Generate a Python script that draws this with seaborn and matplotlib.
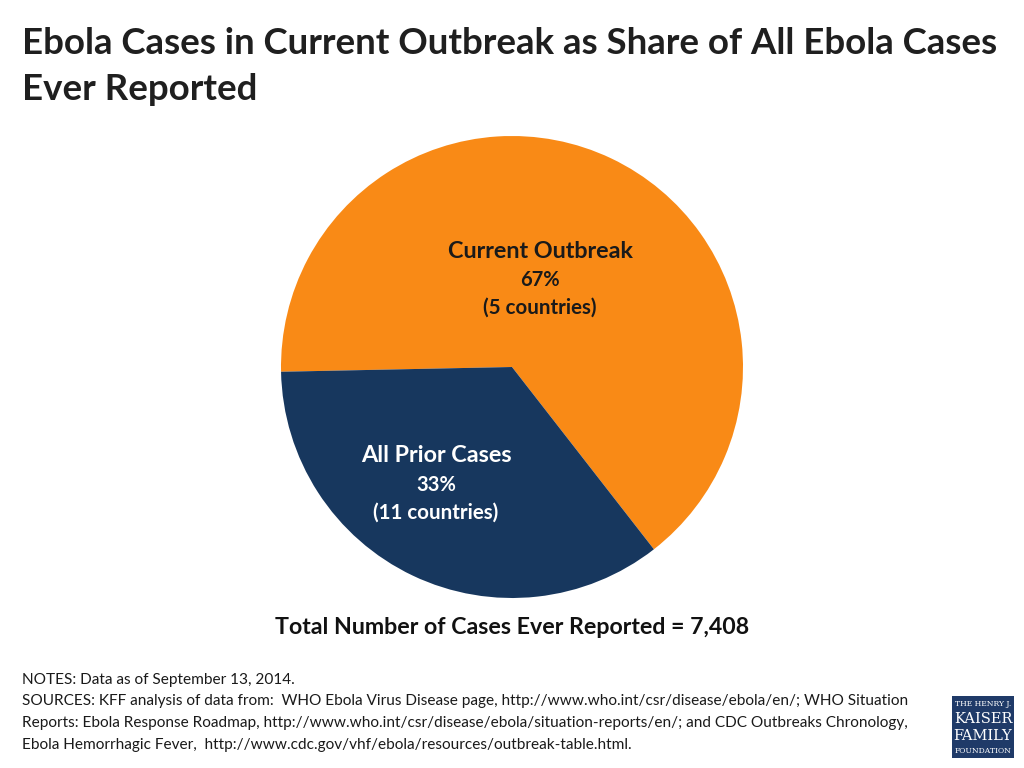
import matplotlib
matplotlib.use("Agg")
import matplotlib.pyplot as plt
import seaborn as sns
from matplotlib.patches import Rectangle

sns.set_theme(style="white")
plt.rcParams['font.family'] = ['Lato', 'DejaVu Sans']

# slice shares as drawn in the picture (labels show rounded figures)
slices = ["Current Outbreak", "All Prior Cases"]
shares = [64.8, 35.2]
pct_labels = ["67%", "33%"]
countries = ["(5 countries)", "(11 countries)"]
total_cases = "7,408"

orange = "#F98A16"
navy = "#17375E"

fig = plt.figure(figsize=(10.24, 7.68), dpi=100)

# title
fig.text(22 / 1024, 1 - 43 / 768,
         "Ebola Cases in Current Outbreak as Share of All Ebola Cases",
         fontsize=26.4, fontweight="bold", color="#1f1f1f", va="center", ha="left")
fig.text(22 / 1024, 1 - 89 / 768, "Ever Reported",
         fontsize=26.4, fontweight="bold", color="#1f1f1f", va="center", ha="left")

# pie
ax = fig.add_axes([281 / 1024, 170 / 768, 462 / 1024, 462 / 768])
ax.pie(shares, colors=[orange, navy], startangle=-52.1, counterclock=True,
       radius=1, wedgeprops=dict(linewidth=0))
ax.set_xlim(-1, 1)
ax.set_ylim(-1, 1)
ax.axis("off")

def px(x, y):
    return x / 1024, 1 - y / 768

# labels inside slices
label_pos = [(540, 251), (436, 456)]
label_col = ["#1a1a1a", "white"]
for i in range(2):
    x, y = label_pos[i]
    fig.text(*px(x, y), slices[i], fontsize=16.8, fontweight="bold",
             color=label_col[i], ha="center", va="center")
    fig.text(*px(x, y + 29), pct_labels[i], fontsize=14.5, fontweight="bold",
             color=label_col[i], ha="center", va="center")
    fig.text(*px(x, y + 57), countries[i], fontsize=14.8, fontweight="bold",
             color=label_col[i], ha="center", va="center")

fig.text(*px(512, 628), "Total Number of Cases Ever Reported = " + total_cases,
         fontsize=16.7, fontweight="bold", color="#111111", ha="center", va="center")

# notes
notes = [
    "NOTES: Data as of September 13, 2014.",
    "SOURCES: KFF analysis of data from:  WHO Ebola Virus Disease page, http://www.who.int/csr/disease/ebola/en/; WHO Situation",
    "Reports: Ebola Response Roadmap, http://www.who.int/csr/disease/ebola/situation-reports/en/; and CDC Outbreaks Chronology,",
    "Ebola Hemorrhagic Fever,  http://www.cdc.gov/vhf/ebola/resources/outbreak-table.html.",
]
for i, line in enumerate(notes):
    fig.text(*px(22, 680 + i * 21.5), line, fontsize=11.1, color="#1a1a1a",
             ha="left", va="center")

# logo
fig.patches.append(Rectangle(px(952, 758), 62 / 1024, 62 / 768,
                             transform=fig.transFigure, facecolor="#1F3A68",
                             edgecolor="none"))
logo_lines = [("THE HENRY J.", 5.5, 704), ("KAISER", 10.5, 719),
              ("FAMILY", 10.5, 736), ("FOUNDATION", 5.5, 751)]
for txt, fs, y in logo_lines:
    fig.text(*px(983, y), txt, fontsize=fs, color="white", family="DejaVu Serif",
             ha="center", va="center")

fig.savefig("out.png", dpi=100)
